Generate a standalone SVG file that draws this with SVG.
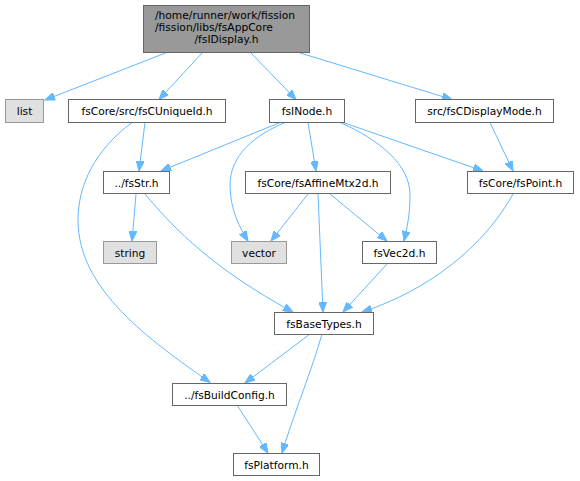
<svg xmlns="http://www.w3.org/2000/svg" width="580" height="481" viewBox="0 0 580 481">
<style>
text{font-family:"DejaVu Sans","Liberation Sans",sans-serif;font-size:10.67px;fill:#000;text-anchor:middle}
.n rect{fill:#fff;stroke:#666;stroke-width:1}
.x rect{fill:#e0e0e0;stroke:#999;stroke-width:1}
.r rect{fill:#999;stroke:#666;stroke-width:1}
#edges path{fill:none;stroke:#63b8ff;stroke-width:1;marker-end:url(#ah)}
</style>
<defs>
<marker id="ah" markerUnits="userSpaceOnUse" markerWidth="11" markerHeight="8" refX="10" refY="4" orient="auto">
<path d="M0,0 L10,4 L0,8 z" fill="#63b8ff" stroke="#63b8ff" stroke-width="1"/>
</marker>
</defs>
<g id="edges">
<path d="M168,52 L45,100"/>
<path d="M203,52 L159,99.5"/>
<path d="M250,52 L296,99.5"/>
<path d="M297,52 L452,99.5"/>
<path d="M145,122.5 L139,171"/>
<path d="M132,122.5 C95,150 78,185 78,220 C78,290 150,340 210,382.5"/>
<path d="M280,122.5 L161,171"/>
<path d="M285,122.5 C255,135 230,155 230,185 C230,210 240,228 248,241"/>
<path d="M308,122.5 L316,171"/>
<path d="M340,122.5 C380,140 410,165 410,195 C410,215 407,228 404,241"/>
<path d="M343,122.5 L483,171"/>
<path d="M490,122.5 L513,171"/>
<path d="M136,194 L132,241"/>
<path d="M145,194 C175,230 215,270 293,312"/>
<path d="M308,194 L271,241"/>
<path d="M318,194 L323,312"/>
<path d="M330,194 L387,241"/>
<path d="M387,264 L343,312"/>
<path d="M513,194 C485,245 430,290 362,312"/>
<path d="M310,334 L245,383"/>
<path d="M322,334 C312,370 295,410 282,453"/>
<path d="M237,405 L268,453"/>
</g>
<g id="root" class="r"><rect x="143.5" y="5.5" width="166" height="47"/>
<text x="226.5" y="19" style="text-anchor:start" dx="-71.5">/home/runner/work/fission</text>
<text x="155" y="31" style="text-anchor:start">/fission/libs/fsAppCore</text>
<text x="226.5" y="43">/fsIDisplay.h</text></g>
<g id="list" class="x"><rect x="5.5" y="99.5" width="38" height="23"/><text x="24.5" y="115">list</text></g>
<g id="fsCUniqueId" class="n"><rect x="68.5" y="99.5" width="157" height="23"/><text x="147" y="115">fsCore/src/fsCUniqueId.h</text></g>
<g id="fsINode" class="n"><rect x="269.5" y="99.5" width="75" height="23"/><text x="307" y="115">fsINode.h</text></g>
<g id="fsCDisplayMode" class="n"><rect x="415.5" y="99.5" width="138" height="23"/><text x="484.5" y="115">src/fsCDisplayMode.h</text></g>
<g id="fsStr" class="n"><rect x="103.5" y="171.5" width="66" height="22"/><text x="136.5" y="186.5">../fsStr.h</text></g>
<g id="fsAffineMtx2d" class="n"><rect x="245.5" y="171.5" width="145" height="22"/><text x="318" y="186.5">fsCore/fsAffineMtx2d.h</text></g>
<g id="fsPoint" class="n"><rect x="467.5" y="171.5" width="106" height="22"/><text x="520.5" y="186.5">fsCore/fsPoint.h</text></g>
<g id="string" class="x"><rect x="103.5" y="241.5" width="53" height="22"/><text x="130" y="256.5">string</text></g>
<g id="vector" class="x"><rect x="231.5" y="241.5" width="55" height="22"/><text x="259" y="256.5">vector</text></g>
<g id="fsVec2d" class="n"><rect x="362.5" y="241.5" width="74" height="22"/><text x="399.5" y="256.5">fsVec2d.h</text></g>
<g id="fsBaseTypes" class="n"><rect x="274.5" y="312.5" width="99" height="22"/><text x="324" y="327.5">fsBaseTypes.h</text></g>
<g id="fsBuildConfig" class="n"><rect x="172.5" y="383.5" width="114" height="22"/><text x="229.5" y="398.5">../fsBuildConfig.h</text></g>
<g id="fsPlatform" class="n"><rect x="233.5" y="453.5" width="86" height="22"/><text x="276.5" y="468.5">fsPlatform.h</text></g>
</svg>
